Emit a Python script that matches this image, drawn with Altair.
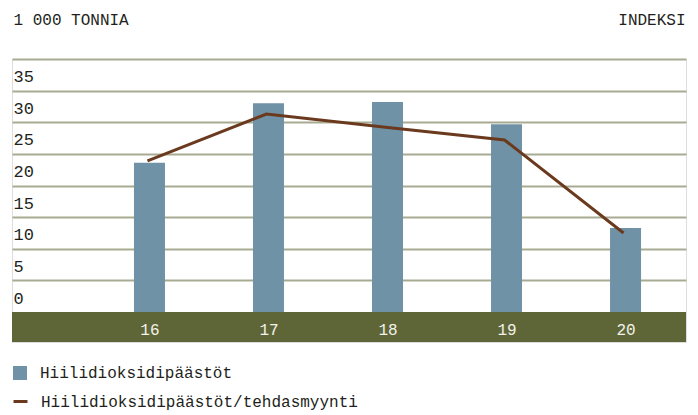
import altair as alt
import pandas as pd

years = [16, 17, 18, 19, 20]
co2 = [23.6, 33.0, 33.2, 29.7, 13.3]
co2_per_sales = [23.9, 31.3, 29.2, 27.2, 12.5]
y_ticks = [0, 5, 10, 15, 20, 25, 30, 35, 40]
x_domain = [14.845, 20.508]
y_domain = [-4.74, 40]
band = [-4.74, 0]
bar_name = "Hiilidioksidipäästöt"
line_name = "Hiilidioksidipäästöt/tehdasmyynti"
left_title = "1 000 TONNIA"
right_title = "INDEKSI"

FONT = "Liberation Mono"
TXT = "#231f20"
BAR = "#6f92a6"
LINE = "#6b3a1e"
BAND = "#5e6638"
GRID = "#a8ab91"

df = pd.DataFrame({
    "year": years,
    "co2": co2,
    "idx": co2_per_sales,
    "s1": [bar_name] * len(years),
    "s2": [line_name] * len(years),
})
band_df = pd.DataFrame({"x0": [x_domain[0]], "x1": [x_domain[1]],
                        "y0": [band[0]], "y1": [band[1]]})

xscale = alt.Scale(domain=x_domain, nice=False, zero=False, padding=0)
yscale = alt.Scale(domain=y_domain, nice=False, zero=False, padding=0)

x_axis = alt.Axis(
    values=years, format="d", title=None, grid=False, ticks=False,
    domain=False, zindex=2,
    labelColor="#f2f2ea", labelFont=FONT, labelFontSize=16,
    labelBaseline="middle", labelPadding=-13, labelFlush=False,
    labelOverlap=False,
)

left_axis = alt.Axis(
    values=y_ticks, title=left_title, titleAngle=0, titleAlign="left",
    titleBaseline="alphabetic", titleX=1, titleY=-35, titleFont=FONT,
    titleFontSize=16, titleFontWeight="normal", titleColor=TXT,
    grid=True,
    gridColor={"condition": {"test": "datum.value === 0", "value": "transparent"}, "value": GRID},
    gridWidth=2, domain=False, ticks=False, tickSize=0,
    labelAlign="left", labelPadding=-1, labelBaseline="alphabetic",
    labelOffset=-9, labelFont=FONT, labelFontSize=17, labelColor=TXT,
    labelExpr="datum.value == 40 ? '' : datum.label",
    labelOverlap=False, labelFlush=False,
)

right_axis = alt.Axis(
    orient="right", title=right_title, titleAngle=0, titleAlign="right",
    titleBaseline="alphabetic", titleX=-1, titleY=-35, titleFont=FONT,
    titleFontSize=16, titleFontWeight="normal", titleColor=TXT,
    grid=False, domain=False, ticks=False, labels=False,
)

band_layer = alt.Chart(band_df).mark_rect(color=BAND).encode(
    x=alt.X("x0:Q", scale=xscale, axis=x_axis),
    x2="x1:Q",
    y=alt.Y("y0:Q", scale=yscale, axis=None),
    y2="y1:Q",
)

bars = alt.Chart(df).mark_bar(size=31).encode(
    x=alt.X("year:Q", scale=xscale, axis=x_axis),
    y=alt.Y("co2:Q", scale=yscale, axis=left_axis),
    fill=alt.Fill("s1:N", scale=alt.Scale(range=[BAR]), legend=alt.Legend(
        title=None, orient="none", legendX=0, legendY=306, padding=0,
        symbolType="square", symbolSize=196, symbolStrokeWidth=0,
        labelFont=FONT, labelFontSize=16, labelColor=TXT, labelOffset=12,
        labelLimit=600,
    )),
)

line = alt.Chart(df).mark_line(strokeWidth=3, xOffset=-2).encode(
    x=alt.X("year:Q", scale=xscale, axis=x_axis),
    y=alt.Y("idx:Q", scale=yscale, axis=right_axis),
    stroke=alt.Stroke("s2:N", scale=alt.Scale(range=[LINE]), legend=alt.Legend(
        title=None, orient="none", legendX=0, legendY=334, padding=0,
        symbolType="stroke", symbolSize=196, symbolStrokeWidth=3,
        labelFont=FONT, labelFontSize=16, labelColor=TXT, labelOffset=12,
        labelLimit=600,
    )),
)

chart = alt.layer(band_layer, bars, line).resolve_scale(y="independent").properties(
    width=674, height=283,
    autosize=alt.AutoSizeParams(type="none"),
    padding={"left": 4, "top": 51, "right": 4, "bottom": 75},
).configure_view(stroke=None).configure(background="white")

chart.save("out.html", embed_options={"renderer": "svg", "actions": False})
